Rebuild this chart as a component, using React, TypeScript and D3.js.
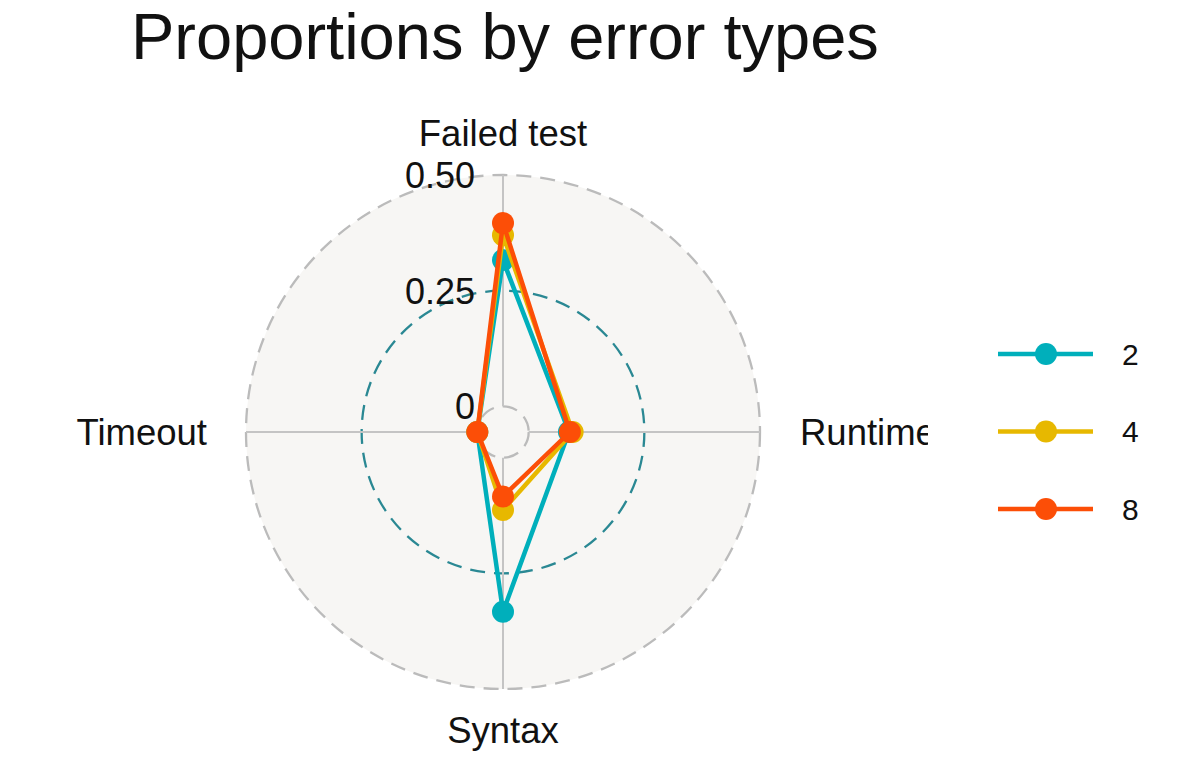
import { useEffect, useRef } from "react";
import * as d3 from "d3";

// data
const axes = ["Failed test", "Runtime", "Syntax", "Timeout"];
const groups = ["2", "4", "8"];
const values2 = [0.316, 0.087, 0.333, 0.0];
const values4 = [0.37, 0.095, 0.113, 0.0];
const values8 = [0.396, 0.089, 0.084, 0.0];
const gridValues = [0, 0.25, 0.5];
const gridLabels = ["0", "0.25", "0.50"];
const colors = ["#00AFBB", "#E7B800", "#FC4E07"];

const W = 1200;
const H = 779;
const cx = 503;
const cy = 432;
const R = 257;
const font = "'Liberation Sans', Arial, sans-serif";

export default function App() {
  const svgRef = useRef<SVGSVGElement>(null);

  useEffect(() => {
    const svg = d3.select(svgRef.current);
    svg.selectAll("*").remove();

    const gridMin = 0;
    const gridMax = 0.5;
    // ggradar-style centre offset
    const centreY = gridMin - (gridMax - gridMin) / 9;
    const r = d3.scaleLinear().domain([centreY, gridMax]).range([0, R]);
    const angle = d3
      .scalePoint<string>()
      .domain(axes)
      .range([0, (2 * Math.PI * (axes.length - 1)) / axes.length]);

    svg
      .append("defs")
      .append("clipPath")
      .attr("id", "panel")
      .append("rect")
      .attr("x", 0)
      .attr("y", 0)
      .attr("width", 928)
      .attr("height", H);

    const g = svg
      .append("g")
      .attr("clip-path", "url(#panel)")
      .append("g")
      .attr("transform", `translate(${cx},${cy})`);

    // background circle
    g.append("circle").attr("r", r(gridMax)).attr("fill", "#F7F6F4");

    // grid circles
    g.selectAll(".grid")
      .data(gridValues)
      .join("circle")
      .attr("r", (d) => r(d))
      .attr("fill", (d) => (d === gridMin ? "#F7F6F4" : "none"))
      .attr("stroke", (d) => (d === 0.25 ? "#2A8893" : "#BBBBBB"))
      .attr("stroke-width", 2.3)
      .attr("stroke-dasharray", "15 9");

    // axis lines, starting at the inner circle
    g.selectAll(".axis-line")
      .data(axes)
      .join("line")
      .attr("x1", (d) => r(gridMin) * Math.sin(angle(d)!))
      .attr("y1", (d) => -r(gridMin) * Math.cos(angle(d)!))
      .attr("x2", (d) => R * Math.sin(angle(d)!))
      .attr("y2", (d) => -R * Math.cos(angle(d)!))
      .attr("stroke", "#C4C4C4")
      .attr("stroke-width", 2);

    // grid labels
    g.selectAll(".grid-label")
      .data(gridValues)
      .join("text")
      .attr("x", (d) => (d === gridMin ? -28 : -28))
      .attr("y", (d) => -r(d))
      .attr("dy", "0.36em")
      .attr("text-anchor", "end")
      .attr("font-family", font)
      .attr("font-size", 36)
      .attr("fill", "#111")
      .text((_, i) => gridLabels[i]);

    // axis labels
    const labelPos: Record<string, [number, number, string]> = {
      "Failed test": [0, -R - 42, "middle"],
      Runtime: [R + 40, 0, "start"],
      Syntax: [0, R + 41, "middle"],
      Timeout: [-R - 39, 0, "end"],
    };
    g.selectAll(".axis-label")
      .data(axes)
      .join("text")
      .attr("x", (d) => labelPos[d][0])
      .attr("y", (d) => labelPos[d][1])
      .attr("dy", "0.36em")
      .attr("text-anchor", (d) => labelPos[d][2])
      .attr("font-family", font)
      .attr("font-size", 36.5)
      .attr("fill", "#111")
      .text((d) => d);

    // series
    const series = [values2, values4, values8];
    const line = d3
      .lineRadial<number>()
      .angle((_, i) => angle(axes[i])!)
      .radius((v) => r(v))
      .curve(d3.curveLinearClosed);

    series.forEach((vals, si) => {
      const sg = g.append("g");
      sg.append("path")
        .attr("d", line(vals))
        .attr("fill", "none")
        .attr("stroke", colors[si])
        .attr("stroke-width", 4.5)
        .attr("stroke-linejoin", "round");
      sg.selectAll("circle")
        .data(vals)
        .join("circle")
        .attr("cx", (v, i) => r(v) * Math.sin(angle(axes[i])!))
        .attr("cy", (v, i) => -r(v) * Math.cos(angle(axes[i])!))
        .attr("r", 11)
        .attr("fill", colors[si]);
    });

    // title
    svg
      .append("text")
      .attr("x", 131)
      .attr("y", 59)
      .attr("font-family", font)
      .attr("font-size", 65)
      .attr("fill", "#111")
      .text("Proportions by error types");

    // legend
    const ly = d3.scalePoint<string>().domain(groups).range([354, 509]);
    const lg = svg
      .selectAll(".legend")
      .data(groups)
      .join("g")
      .attr("transform", (d) => `translate(0,${ly(d)})`);
    lg.append("line")
      .attr("x1", 998)
      .attr("x2", 1093)
      .attr("stroke", (_, i) => colors[i])
      .attr("stroke-width", 4.5);
    lg.append("circle")
      .attr("cx", 1046)
      .attr("r", 11)
      .attr("fill", (_, i) => colors[i]);
    lg.append("text")
      .attr("x", 1122)
      .attr("dy", "0.36em")
      .attr("font-family", font)
      .attr("font-size", 30)
      .attr("fill", "#111")
      .text((d) => d);
  }, []);

  return (
    <svg
      ref={svgRef}
      width={W}
      height={H}
      style={{ position: "absolute", left: 0, top: 0, background: "#fff" }}
    />
  );
}
